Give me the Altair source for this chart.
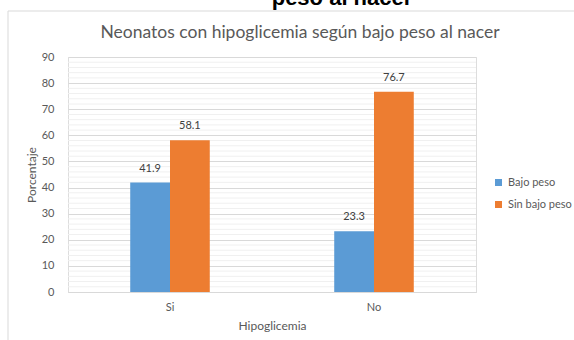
import altair as alt
import pandas as pd

categories = ["Si", "No"]
series = ["Bajo peso", "Sin bajo peso"]
bajo_peso = [41.9, 23.3]
sin_bajo_peso = [58.1, 76.7]

rows = []
for i, c in enumerate(categories):
    rows.append({"Hipoglicemia": c, "Grupo": series[0], "Porcentaje": bajo_peso[i]})
    rows.append({"Hipoglicemia": c, "Grupo": series[1], "Porcentaje": sin_bajo_peso[i]})
df = pd.DataFrame(rows)

minor_df = pd.DataFrame({"Porcentaje": [v for v in range(0, 91, 2) if v % 10 != 0]})
one = pd.DataFrame({"k": [0]})

FONT = "Lato"
GRAY = "#595959"

yscale = alt.Scale(domain=[0, 90], nice=False)
xscale = alt.Scale(domain=categories, paddingInner=0.61, paddingOuter=0.305)

y_axis = alt.Axis(title="Porcentaje", values=list(range(0, 91, 10)), ticks=False,
                  domain=False, gridColor="#D9D9D9", labelColor=GRAY,
                  titleColor=GRAY, labelFontSize=11, titleFontSize=12,
                  labelPadding=14, titlePadding=3, titleFontWeight="normal",
                  labelFont=FONT, titleFont=FONT)

minor = alt.Chart(minor_df).mark_rule(color="#F0F0F0", strokeWidth=1).encode(
    y=alt.Y("Porcentaje:Q", scale=yscale, axis=y_axis)
)

base = alt.Chart(df).encode(
    x=alt.X("Hipoglicemia:N", scale=xscale, sort=categories,
            axis=alt.Axis(title="Hipoglicemia", labelAngle=0, ticks=False,
                          domainColor="#D9D9D9", labelColor=GRAY, titleColor=GRAY,
                          labelFontSize=11, titleFontSize=12, labelPadding=9,
                          titlePadding=8, titleFontWeight="normal",
                          labelFont=FONT, titleFont=FONT, grid=False)),
    xOffset=alt.XOffset("Grupo:N", sort=series, scale=alt.Scale(paddingInner=0, paddingOuter=0)),
    y=alt.Y("Porcentaje:Q", scale=yscale, axis=y_axis),
)

bars = base.mark_bar().encode(
    color=alt.Color("Grupo:N", sort=series,
                    scale=alt.Scale(domain=series, range=["#5B9BD5", "#ED7D31"]),
                    legend=alt.Legend(title=None, orient="none", legendX=425, legendY=120,
                                      symbolType="square", symbolSize=49,
                                      symbolStrokeWidth=0, labelFontSize=11,
                                      labelColor=GRAY, labelFont=FONT, rowPadding=10,
                                      labelOffset=4))
)

labels = base.mark_text(dy=-9, baseline="bottom", fontSize=11, color="#404040", font=FONT).encode(
    text=alt.Text("Porcentaje:Q", format=".1f")
)

border = alt.Chart(one).mark_rect(fill="transparent", stroke="#D9D9D9", strokeWidth=1).encode(
    x=alt.value(-60), x2=alt.value(600), y=alt.value(-46), y2=alt.value(400)
)

top_text = alt.Chart(one).mark_text(fontSize=22, fontWeight="bold", color="#000000",
                                    font="Liberation Sans", baseline="alphabetic").encode(
    x=alt.value(274), y=alt.value(-52), text=alt.value("peso al nacer")
)

title_text = alt.Chart(one).mark_text(fontSize=17.5, color=GRAY, font=FONT,
                                      baseline="middle").encode(
    x=alt.value(232), y=alt.value(-24),
    text=alt.value("Neonatos con hipoglicemia según bajo peso al nacer")
)

chart = alt.layer(border, top_text, title_text, minor, bars, labels).properties(
    width=408, height=235,
    padding={"left": 68, "top": 57, "right": 98, "bottom": 48},
    autosize=alt.AutoSizeParams(type="none"),
).configure_view(strokeWidth=0).configure(background="white")

chart.save("out.html", embed_options={"renderer": "svg", "actions": False})
